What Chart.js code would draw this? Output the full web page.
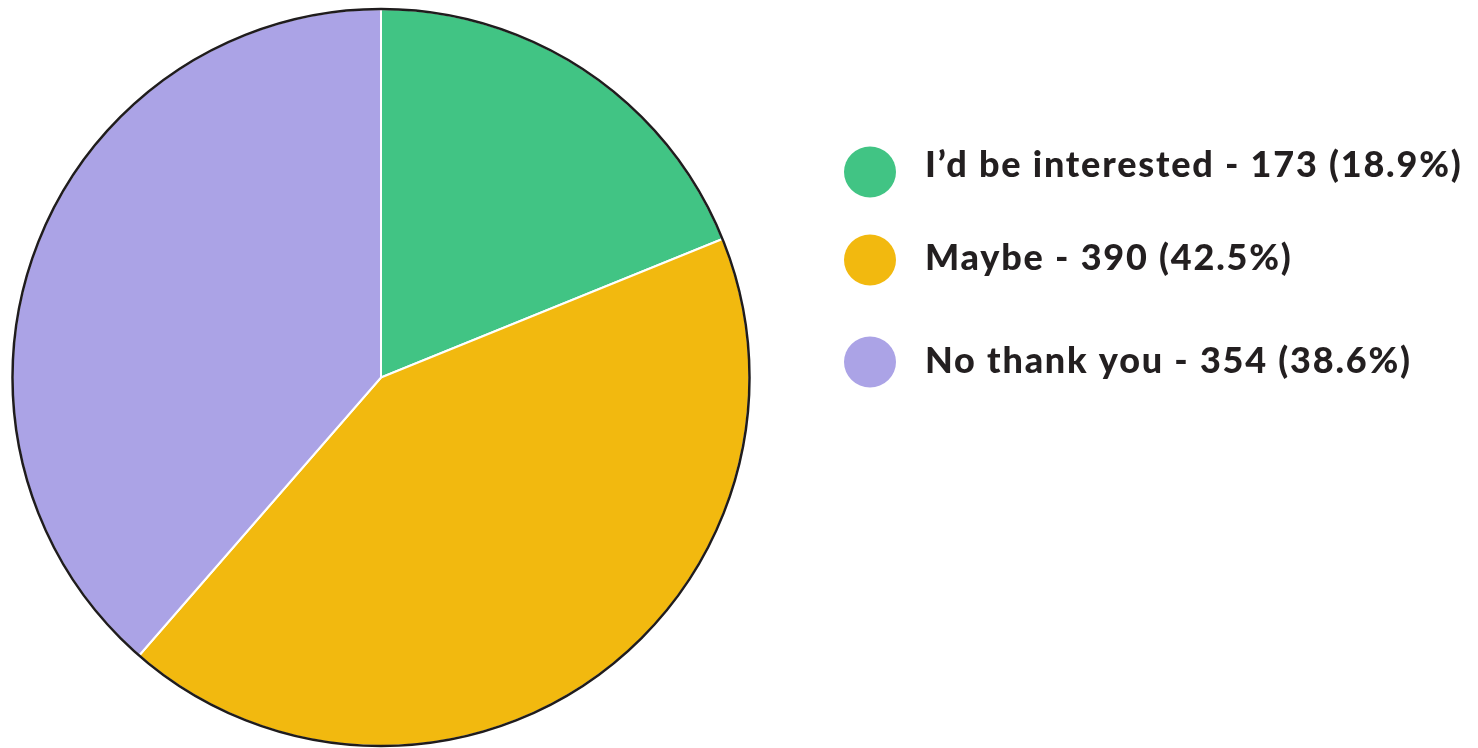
<!DOCTYPE html>
<html>
<head>
<meta charset="utf-8">
<script src="https://cdn.jsdelivr.net/npm/chart.js@4"></script>
<style>
  html, body { margin: 0; padding: 0; background: #ffffff; }
  #wrap { width: 1478px; height: 748px; position: relative; }
</style>
</head>
<body>
<div id="wrap"><canvas id="c"></canvas></div>
<script>
const categories = ["I\u2019d be interested", "Maybe", "No thank you"];
const counts = [173, 390, 354];
const percents = ["18.9%", "42.5%", "38.6%"];
const colors = ["#41c484", "#f2b90f", "#aba3e6"];

const outerRing = {
  id: 'outerRing',
  afterDatasetsDraw(chart) {
    const arc = chart.getDatasetMeta(0).data[0];
    if (!arc) return;
    const ctx = chart.ctx;
    ctx.save();
    ctx.beginPath();
    ctx.arc(arc.x, arc.y, arc.outerRadius, 0, Math.PI * 2);
    ctx.lineWidth = 2.5;
    ctx.strokeStyle = '#1f1c1d';
    ctx.stroke();
    ctx.restore();
  }
};

const sideLegend = {
  id: 'sideLegend',
  afterDraw(chart) {
    const ctx = chart.ctx;
    const dotY = [172, 260, 362];
    const textY = [177, 270, 373];
    const lbl = chart.data.labels;
    const ds = chart.data.datasets[0];
    ctx.save();
    ctx.font = '900 36px Lato';
    try { ctx.letterSpacing = '1.8px'; } catch (e) {}
    ctx.textBaseline = 'alphabetic';
    ctx.textAlign = 'left';
    lbl.forEach((name, i) => {
      ctx.beginPath();
      ctx.ellipse(870, dotY[i], 26, 25.5, 0, 0, Math.PI * 2);
      ctx.fillStyle = ds.backgroundColor[i];
      ctx.fill();
      ctx.fillStyle = '#231f20';
      ctx.fillText(name + ' - ' + ds.data[i] + ' (' + percents[i] + ')', 925, textY[i]);
    });
    ctx.restore();
  }
};

new Chart(document.getElementById('c'), {
  type: 'pie',
  data: {
    labels: categories,
    datasets: [{
      data: counts,
      backgroundColor: colors,
      borderColor: '#ffffff',
      borderWidth: 2
    }]
  },
  options: {
    responsive: true,
    maintainAspectRatio: false,
    animation: false,
    layout: { padding: { left: 6, top: 8, right: 1478 - 756, bottom: 1 } },
    plugins: {
      legend: { display: false },
      tooltip: { enabled: false }
    }
  },
  plugins: [outerRing, sideLegend]
});
</script>
</body>
</html>
